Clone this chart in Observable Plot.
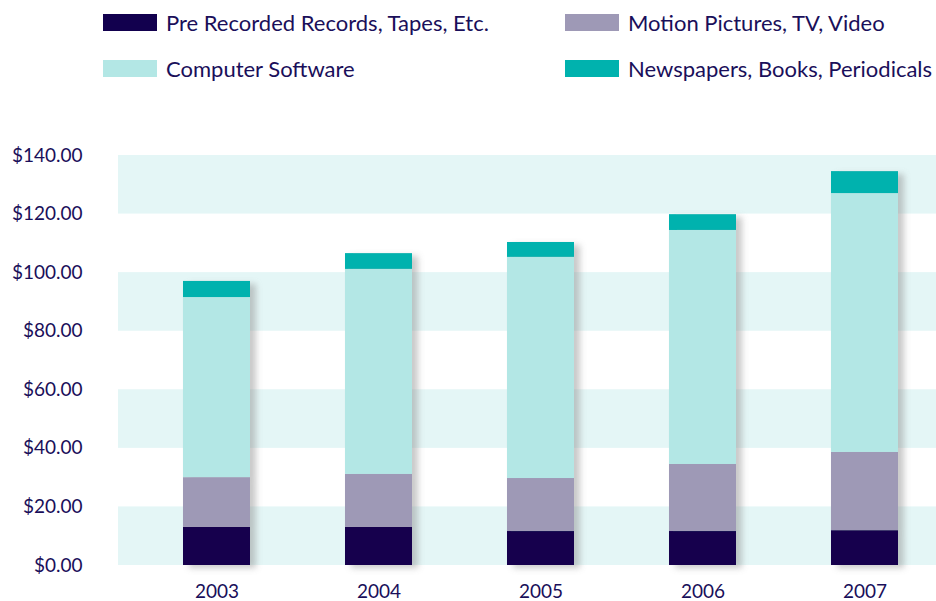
<!DOCTYPE html>
<html>
<head>
<meta charset="utf-8">
<script src="https://cdn.jsdelivr.net/npm/d3@7"></script>
<script src="https://cdn.jsdelivr.net/npm/@observablehq/plot@0.6"></script>
<style>
  body { margin: 0; background: #fff; font-family: Lato, "Open Sans", sans-serif; color: #1a0f5a; }
  #wrap { position: relative; width: 936px; height: 601px; overflow: hidden; }
  #legend { position: absolute; left: 0; top: 0; width: 936px; height: 100px; }
  .item { position: absolute; display: flex; align-items: center; font-size: 22px; white-space: nowrap; }
  .sw { width: 54px; height: 17px; margin-right: 9px; }
  #chart { position: absolute; left: 0; top: 100px; }
</style>
</head>
<body>
<div id="wrap">
  <div id="legend"></div>
  <div id="chart"></div>
</div>
<script>
const years = ["2003", "2004", "2005", "2006", "2007"];
const seriesNames = ["Pre Recorded Records, Tapes, Etc.", "Motion Pictures, TV, Video", "Computer Software", "Newspapers, Books, Periodicals"];
const seriesColors = ["#12004e", "#9e99b6", "#b3e7e5", "#00b2ae"];
const preRecorded = [13.0, 13.0, 11.6, 11.6, 11.9];
const motionPictures = [17.0, 18.1, 18.1, 22.9, 26.7];
const computerSoftware = [61.5, 70.0, 75.5, 79.9, 88.4];
const newspapers = [5.5, 5.4, 5.1, 5.4, 7.5];
const yTicks = [0, 20, 40, 60, 80, 100, 120, 140];
const bandStarts = [0, 40, 80, 120];

const seriesValues = [preRecorded, motionPictures, computerSoftware, newspapers];
const data = [];
seriesNames.forEach((s, i) => years.forEach((y, j) => data.push({year: y, series: s, value: seriesValues[i][j]})));
const bands = bandStarts.map(b => ({y1: b, y2: b + 20}));

// legend
const legendPos = [[103, 14], [565, 14], [103, 60], [565, 60]];
const legend = document.getElementById("legend");
seriesNames.forEach((s, i) => {
  const d = document.createElement("div");
  d.className = "item";
  d.style.left = legendPos[i][0] + "px";
  d.style.top = (legendPos[i][1] - 5) + "px";
  d.innerHTML = `<div class="sw" style="background:${seriesColors[i]}"></div><span>${s}</span>`;
  legend.appendChild(d);
});

const chart = Plot.plot({
  width: 936,
  height: 501,
  marginLeft: 118,
  marginRight: 0,
  marginTop: 55,
  marginBottom: 36,
  style: {fontFamily: "Lato, 'Open Sans', sans-serif", fontSize: "19px", color: "#1a0f5a", background: "transparent"},
  x: {domain: years, range: [118, 964], paddingInner: 0.586, paddingOuter: 0.404, align: 0.5, label: null},
  y: {domain: [0, 140], label: null},
  color: {domain: seriesNames, range: seriesColors},
  marks: [
    Plot.rectY(bands, {y1: "y1", y2: "y2", fill: "#e4f6f6"}),
    Plot.barY(data, {x: "year", y: "value", fill: "series", order: seriesNames, className: "bars"}),
    Plot.axisY({ticks: yTicks, tickFormat: d3.format("$.2f"), tickSize: 0, tickPadding: 36, fontSize: 19, fill: "#1a0f5a"}),
    Plot.axisX({tickSize: 0, tickPadding: 19, fontSize: 19, fill: "#1a0f5a"})
  ]
});

// drop shadow for the bars
const svg = d3.select(chart);
const defs = svg.insert("defs", ":first-child");
const f = defs.append("filter").attr("id", "barshadow").attr("x", "-20%").attr("y", "-5%").attr("width", "150%").attr("height", "120%");
f.append("feDropShadow").attr("dx", 6).attr("dy", 3).attr("stdDeviation", 3).attr("flood-color", "#888").attr("flood-opacity", 0.45);
svg.selectAll("g.bars").attr("filter", "url(#barshadow)");

document.getElementById("chart").appendChild(chart);
</script>
</body>
</html>
